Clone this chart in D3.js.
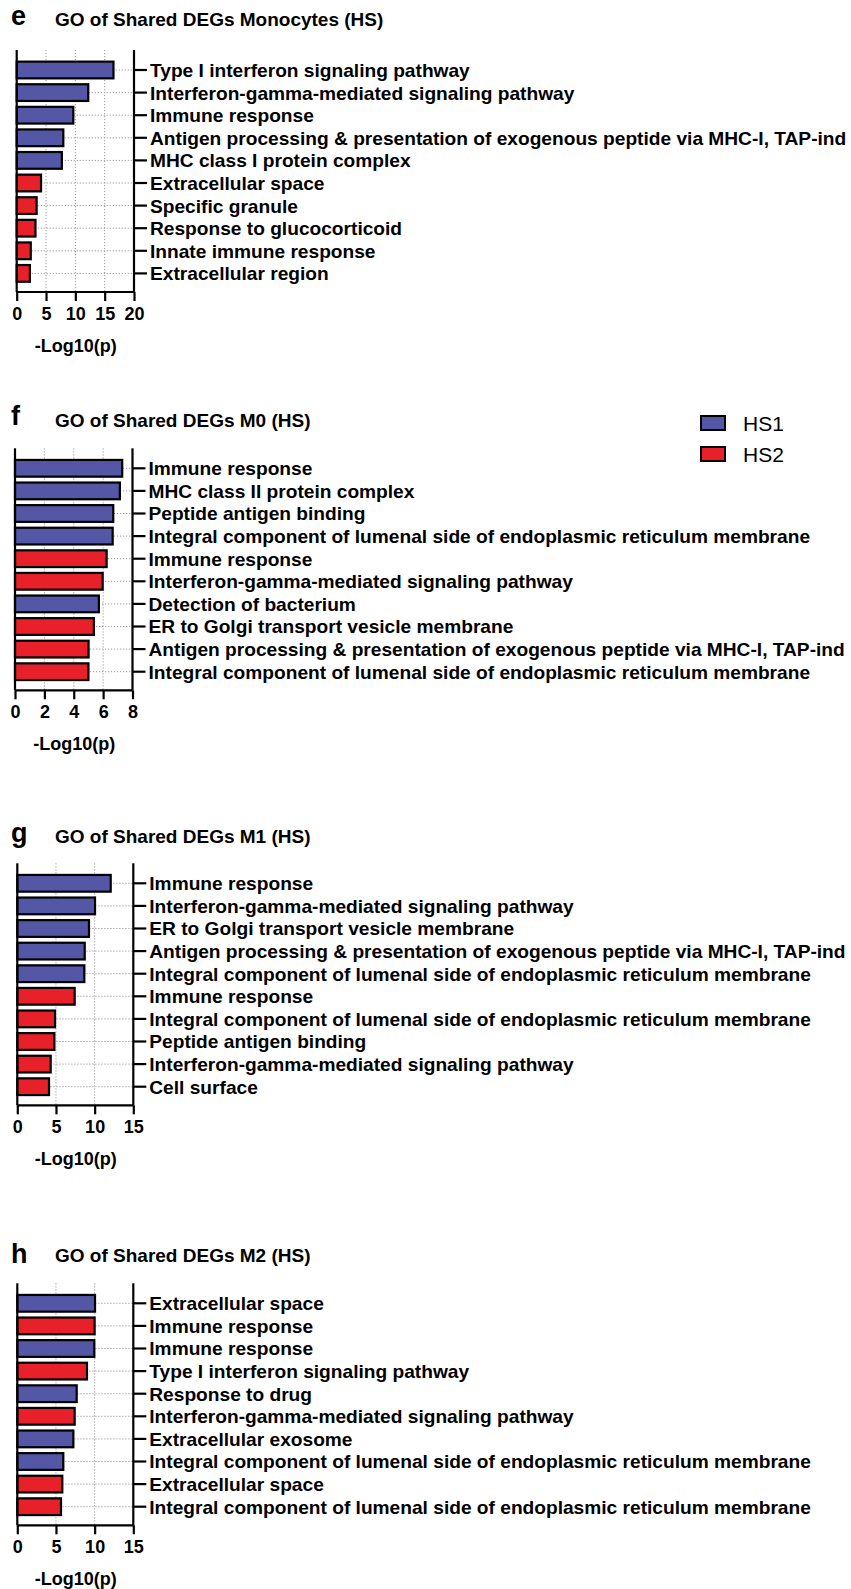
<!DOCTYPE html>
<html><head><meta charset="utf-8">
<script src="https://cdn.jsdelivr.net/npm/d3@7/dist/d3.min.js"></script>
<style>body{margin:0;background:#fff}svg{display:block}</style></head>
<body><svg id="c" width="851" height="1589"></svg>
<script>
// ---- data ----
const catsE = ["Type I interferon signaling pathway","Interferon-gamma-mediated signaling pathway","Immune response","Antigen processing & presentation of exogenous peptide via MHC-I, TAP-ind","MHC class I protein complex","Extracellular space","Specific granule","Response to glucocorticoid","Innate immune response","Extracellular region"];
const valsE = [16.5, 12.2, 9.65, 7.95, 7.7, 4.15, 3.4, 3.2, 2.4, 2.25];
const grpE  = ["HS1","HS1","HS1","HS1","HS1","HS2","HS2","HS2","HS2","HS2"];
const ticksE = [0,5,10,15,20];

const catsF = ["Immune response","MHC class II protein complex","Peptide antigen binding","Integral component of lumenal side of endoplasmic reticulum membrane","Immune response","Interferon-gamma-mediated signaling pathway","Detection of bacterium","ER to Golgi transport vesicle membrane","Antigen processing & presentation of exogenous peptide via MHC-I, TAP-ind","Integral component of lumenal side of endoplasmic reticulum membrane"];
const valsF = [7.3, 7.14, 6.69, 6.65, 6.24, 5.97, 5.71, 5.37, 5.01, 5.0];
const grpF  = ["HS1","HS1","HS1","HS1","HS2","HS2","HS1","HS2","HS2","HS2"];
const ticksF = [0,2,4,6,8];

const catsG = ["Immune response","Interferon-gamma-mediated signaling pathway","ER to Golgi transport vesicle membrane","Antigen processing & presentation of exogenous peptide via MHC-I, TAP-ind","Integral component of lumenal side of endoplasmic reticulum membrane","Immune response","Integral component of lumenal side of endoplasmic reticulum membrane","Peptide antigen binding","Interferon-gamma-mediated signaling pathway","Cell surface"];
const valsG = [12.08, 10.05, 9.27, 8.72, 8.67, 7.42, 4.88, 4.79, 4.32, 4.1];
const grpG  = ["HS1","HS1","HS1","HS1","HS1","HS2","HS2","HS2","HS2","HS2"];
const ticksG = [0,5,10,15];

const catsH = ["Extracellular space","Immune response","Immune response","Type I interferon signaling pathway","Response to drug","Interferon-gamma-mediated signaling pathway","Extracellular exosome","Integral component of lumenal side of endoplasmic reticulum membrane","Extracellular space","Integral component of lumenal side of endoplasmic reticulum membrane"];
const valsH = [10.05, 10.0, 9.96, 9.01, 7.68, 7.42, 7.25, 5.95, 5.82, 5.65];
const grpH  = ["HS1","HS2","HS1","HS2","HS1","HS2","HS1","HS1","HS2","HS2"];
const ticksH = [0,5,10,15];

const legendKeys = ["HS1","HS2"];
const colors = {HS1:"#5457a6", HS2:"#e8202a"};

const FONT = "'Liberation Sans', Arial, Helvetica, sans-serif";
const svg = d3.select("#c");

const panels = [
  {letter:"e", title:"GO of Shared DEGs Monocytes (HS)", cats:catsE, vals:valsE, grp:grpE, ticks:ticksE, x0:16.7, w:117.3, top:50,    ly:25,   ty:26},
  {letter:"f", title:"GO of Shared DEGs M0 (HS)",        cats:catsF, vals:valsF, grp:grpF, ticks:ticksF, x0:15,   w:117.5, top:448.3, ly:425,  ty:426.5},
  {letter:"g", title:"GO of Shared DEGs M1 (HS)",        cats:catsG, vals:valsG, grp:grpG, ticks:ticksG, x0:17.3, w:116,   top:863.3, ly:841.5,ty:843},
  {letter:"h", title:"GO of Shared DEGs M2 (HS)",        cats:catsH, vals:valsH, grp:grpH, ticks:ticksH, x0:17.3, w:116,   top:1283.3,ly:1263, ty:1261.5}
];

panels.forEach(p => {
  const g = svg.append("g");
  const xmax = p.ticks[p.ticks.length-1];
  const x = d3.scaleLinear().domain([0, xmax]).range([p.x0, p.x0 + p.w]);
  const idx = d3.range(p.cats.length);
  const step = 22.6;
  const y = d3.scaleBand().domain(idx).range([p.top + 8.7, p.top + 8.7 + step*idx.length]).paddingInner(0.26).paddingOuter(0.13);
  const base = p.top + 242;
  const xr = p.x0 + p.w;

  // letter + title
  g.append("text").attr("x", 11).attr("y", p.ly).text(p.letter)
    .attr("font-family", FONT).attr("font-weight", "bold").attr("font-size", 27).attr("fill", "#000");
  g.append("text").attr("x", 55).attr("y", p.ty).text(p.title)
    .attr("font-family", FONT).attr("font-weight", "bold").attr("font-size", 19).attr("fill", "#000");

  // vertical grid
  g.selectAll(".vg").data(p.ticks.slice(1, -1)).enter().append("line")
    .attr("x1", d => x(d)).attr("x2", d => x(d)).attr("y1", p.top).attr("y2", base)
    .attr("stroke", "#9a9a9a").attr("stroke-width", 1).attr("stroke-dasharray", "1.2,1.8");
  // horizontal grid
  g.selectAll(".hg").data(idx).enter().append("line")
    .attr("x1", p.x0).attr("x2", xr)
    .attr("y1", d => y(d) + y.bandwidth()/2).attr("y2", d => y(d) + y.bandwidth()/2)
    .attr("stroke", "#9a9a9a").attr("stroke-width", 1).attr("stroke-dasharray", "1.2,1.8");

  // bars
  g.selectAll(".bar").data(idx).enter().append("rect")
    .attr("x", x(0)).attr("y", d => y(d))
    .attr("width", d => x(p.vals[d]) - x(0)).attr("height", y.bandwidth())
    .attr("fill", d => colors[p.grp[d]]).attr("stroke", "#000").attr("stroke-width", 2.2);

  // left & right axis lines
  const axisStyle = sel => sel.attr("stroke", "#000").attr("stroke-width", 2.2);
  g.append("line").attr("x1", p.x0).attr("x2", p.x0).attr("y1", p.top).attr("y2", base).call(axisStyle);
  g.append("line").attr("x1", xr).attr("x2", xr).attr("y1", p.top).attr("y2", base).call(axisStyle);

  // right category axis
  const ra = g.append("g").attr("transform", `translate(${xr},0)`)
    .call(d3.axisRight(y).tickSize(13).tickPadding(3).tickFormat(d => p.cats[d]));
  ra.select(".domain").remove();
  ra.selectAll(".tick line").attr("stroke", "#000").attr("stroke-width", 2.2);
  ra.selectAll(".tick text").attr("font-family", FONT).attr("font-weight", "bold")
    .attr("font-size", 19.15).attr("fill", "#000").attr("dy", "0.36em");

  // bottom axis
  const ba = g.append("g").attr("transform", `translate(0,${base})`)
    .call(d3.axisBottom(x).tickValues(p.ticks).tickSize(9).tickPadding(6).tickFormat(d3.format("d")));
  ba.select(".domain").attr("d", `M${p.x0},0H${xr}`).attr("stroke", "#000").attr("stroke-width", 2.2);
  ba.selectAll(".tick line").attr("stroke", "#000").attr("stroke-width", 2.2);
  ba.selectAll(".tick text").attr("font-family", FONT).attr("font-weight", "bold")
    .attr("font-size", 18).attr("fill", "#000");

  // axis title
  g.append("text").attr("x", (p.x0 + xr)/2 + 0.5).attr("y", base + 60).attr("text-anchor", "middle")
    .text("-Log10(p)").attr("font-family", FONT).attr("font-weight", "bold").attr("font-size", 18).attr("fill", "#000");
});

// legend
const lg = svg.append("g").attr("transform", "translate(700,415)");
legendKeys.forEach((k, i) => {
  lg.append("rect").attr("x", 1).attr("y", i*31 + 1).attr("width", 24).attr("height", 14)
    .attr("fill", colors[k]).attr("stroke", "#000").attr("stroke-width", 2);
  lg.append("text").attr("x", 43).attr("y", i*31 + 8).attr("dy", "0.36em").text(k)
    .attr("font-family", FONT).attr("font-size", 21).attr("fill", "#000");
});
</script></body></html>
